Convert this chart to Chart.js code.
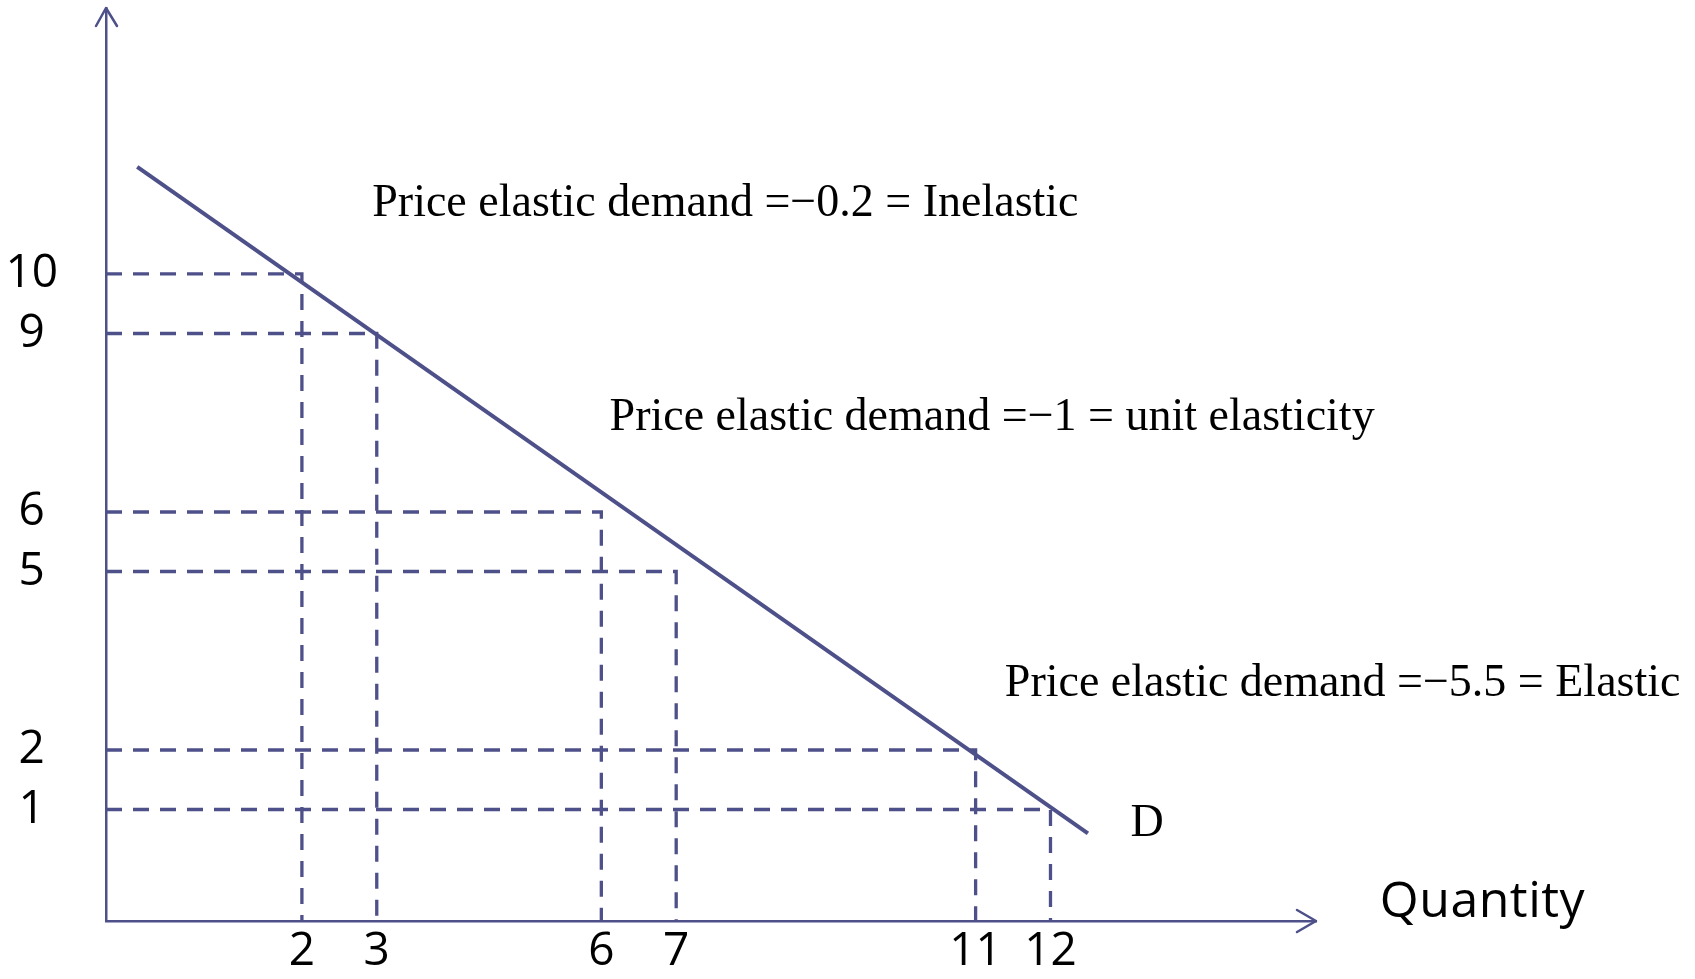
<!DOCTYPE html>
<html>
<head>
<meta charset="utf-8">
<script src="https://cdn.jsdelivr.net/npm/chart.js@4.4.1/dist/chart.umd.min.js"></script>
<style>
  html, body { margin: 0; padding: 0; background: #ffffff; }
  #wrap { width: 1695px; height: 979px; }
</style>
</head>
<body>
<div id="wrap"><canvas id="chart" width="1695" height="979"></canvas></div>
<script>
// Demand schedule: quantity demanded at each price
const quantities = [2, 3, 6, 7, 11, 12];
const prices = [10, 9, 6, 5, 2, 1];

// Tick labels on each axis
const quantityTicks = [2, 3, 6, 7, 11, 12];
const priceTicks = [10, 9, 6, 5, 2, 1];

// Ends of the demand curve D
const demandLineQ = [-0.2, 12.5];
const demandLineP = [11.8, 0.6];

// Elasticity notes
const noteTexts = [
  'Price elastic demand =\u22120.2 = Inelastic',
  'Price elastic demand =\u22121 = unit elasticity',
  'Price elastic demand =\u22125.5 = Elastic'
];

// Axis ranges (the axes are not labelled at the origin)
const Q_MIN = -0.617, Q_MAX = 15.547;
const P_MIN = -0.874, P_MAX = 14.47;

const INK = '#4E5089';
const TICK_FONT = { family: "'Open Sans', 'Liberation Sans', Arial, sans-serif", size: 46 };
const SERIF = "46px 'Liberation Serif', 'Times New Roman', serif";

// Where the text notes sit, in axis units (left edge, baseline)
const noteLayout = [
  { text: noteTexts[0], q: 2.94, p: 10.97, font: SERIF, spacing: 0 },
  { text: noteTexts[1], q: 6.11, p: 7.38, font: SERIF, spacing: 0 },
  { text: noteTexts[2], q: 11.39, p: 2.91, font: SERIF, spacing: 0 },
  { text: 'D', q: 13.07, p: 0.55, font: SERIF, spacing: 0 },
  { text: 'Quantity', q: 16.4, p: -0.8, font: "50px 'Open Sans', 'Liberation Sans', Arial, sans-serif", spacing: 0.5 }
];

// Dashed guide from the price axis to each point and down to the quantity axis
const guideSets = quantities.map((q, i) => ({
  label: 'guide ' + i,
  data: [
    { x: Q_MIN, y: prices[i] },
    { x: q, y: prices[i] },
    { x: q, y: P_MIN }
  ],
  showLine: true,
  borderColor: INK,
  borderWidth: 3.3,
  borderDash: [16, 11],
  pointRadius: 0,
  fill: false
}));

const demandSet = {
  label: 'D',
  data: demandLineQ.map((q, i) => ({ x: q, y: demandLineP[i] })),
  showLine: true,
  borderColor: INK,
  borderWidth: 4,
  pointRadius: 0,
  fill: false
};

// Arrowheads on the axes plus the text notes
const decorations = {
  id: 'decorations',
  afterDraw(chart) {
    const { ctx, chartArea: a, scales } = chart;
    ctx.save();
    ctx.strokeStyle = INK;
    ctx.lineWidth = 2.5;
    ctx.lineCap = 'round';
    ctx.lineJoin = 'round';
    ctx.beginPath();
    ctx.moveTo(a.left - 10, a.top + 18);
    ctx.lineTo(a.left, a.top);
    ctx.lineTo(a.left + 11, a.top + 18);
    ctx.moveTo(a.right - 19, a.bottom - 11);
    ctx.lineTo(a.right, a.bottom);
    ctx.lineTo(a.right - 19, a.bottom + 11);
    ctx.stroke();

    ctx.fillStyle = '#000000';
    ctx.textAlign = 'left';
    ctx.textBaseline = 'alphabetic';
    noteLayout.forEach(n => {
      ctx.font = n.font;
      ctx.letterSpacing = n.spacing + 'px';
      ctx.fillText(n.text, scales.x.getPixelForValue(n.q), scales.y.getPixelForValue(n.p));
    });
    ctx.restore();
  }
};

// Keep the axes flush with the plot edges
function fixBox(size) {
  return s => {
    if (s.isHorizontal()) s.height = size; else s.width = size;
    s.paddingTop = 0; s.paddingBottom = 0; s.paddingLeft = 0; s.paddingRight = 0;
  };
}

new Chart(document.getElementById('chart'), {
  type: 'scatter',
  data: { datasets: [...guideSets, demandSet] },
  options: {
    responsive: false,
    devicePixelRatio: 1,
    animation: false,
    events: [],
    layout: { padding: { left: 0, top: 8, right: 379, bottom: 0 } },
    plugins: { legend: { display: false }, tooltip: { enabled: false } },
    scales: {
      x: {
        type: 'linear',
        min: Q_MIN,
        max: Q_MAX,
        grid: { display: false, drawTicks: false },
        border: { display: true, color: INK, width: 2.5 },
        afterBuildTicks: s => { s.ticks = quantityTicks.map(v => ({ value: v })); },
        afterFit: fixBox(58),
        ticks: { autoSkip: false, maxRotation: 0, color: '#000000', font: TICK_FONT, padding: 3 }
      },
      y: {
        type: 'linear',
        min: P_MIN,
        max: P_MAX,
        grid: { display: false, drawTicks: false },
        border: { display: true, color: INK, width: 2.5 },
        afterBuildTicks: s => { s.ticks = priceTicks.map(v => ({ value: v })); },
        afterFit: fixBox(106),
        ticks: { autoSkip: false, color: '#000000', font: TICK_FONT, padding: 48, crossAlign: 'center' }
      }
    }
  },
  plugins: [decorations]
});
</script>
</body>
</html>
